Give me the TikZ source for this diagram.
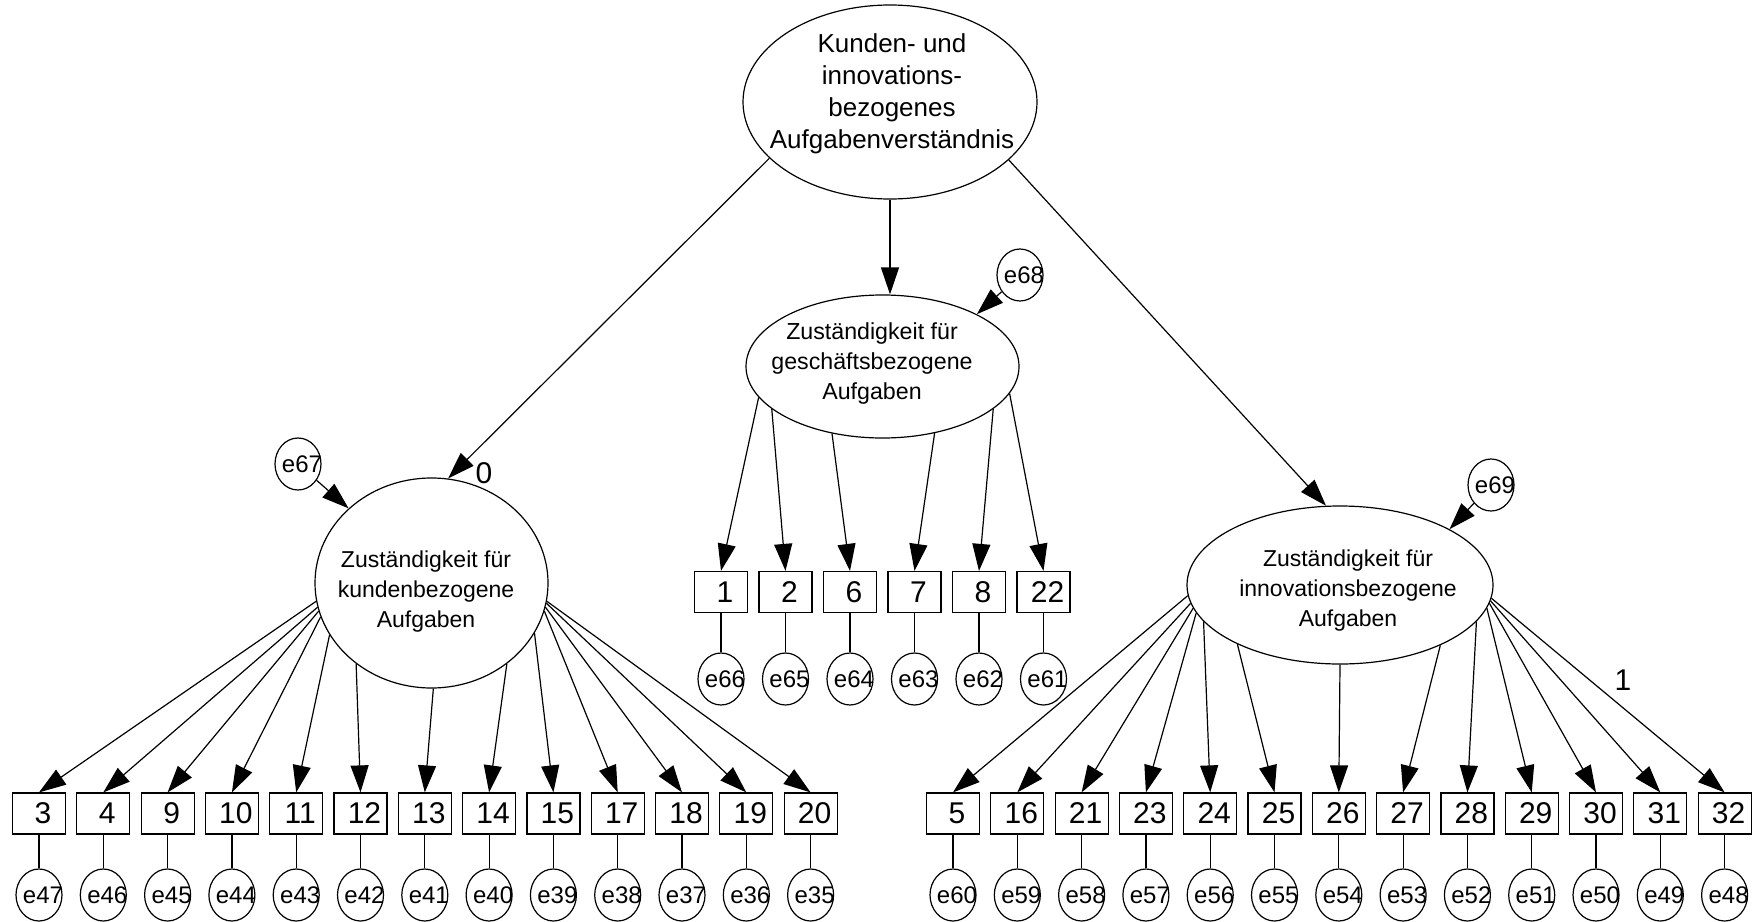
\documentclass[tikz,border=0pt]{standalone}
\usepackage{fontspec}
\setmainfont{Liberation Sans}
\usetikzlibrary{shapes.geometric,arrows.meta}

% label set slightly right of the shape centre without widening the shape
\newcommand{\shiftedlabel}[1]{\makebox[0pt]{\hspace*{4pt}#1}}

\begin{document}
\begin{tikzpicture}[x=0.5pt,y=-0.5pt,
  line width=0.6pt,
  latent/.style={draw, ellipse, inner sep=0pt},
  lattext/.style={align=center, inner sep=0pt, font=\fontsize{11.5}{15}\selectfont},
  obs/.style={draw, rectangle, minimum width=26.5pt, minimum height=20.5pt, inner sep=0pt,
              font=\fontsize{15}{15}\selectfont},
  err/.style={draw, ellipse, minimum width=23pt, minimum height=26pt, inner sep=0pt,
              font=\fontsize{12}{12}\selectfont},
  path/.style={-{Triangle[length=13.5pt,width=9pt]}},
  num/.style={inner sep=0pt, font=\fontsize{15}{15}\selectfont},
]
\useasboundingbox (0,0) rectangle (1756,921);

% second-order factor
\node[latent, minimum width=147pt, minimum height=97pt] (top) at (890,102) {};
\node[align=center, inner sep=0pt, font=\fontsize{13}{16}\selectfont] (toptext) at (892,94)
  {Kunden- und\\innovations-\\bezogenes\\Aufgabenverständnis};

% first-order factors
\node[latent, minimum width=136.5pt, minimum height=71.5pt] (mid) at (882.5,366.5) {};
\node[lattext, font=\fontsize{11.6}{15}\selectfont] (midtext) at (872,363)
  {Zuständigkeit für\\geschäftsbezogene\\Aufgaben};

\node[latent, minimum width=116.5pt, minimum height=105pt] (lc) at (431.5,583) {};
\node[lattext] (lctext) at (426,592) {Zuständigkeit für\\kundenbezogene\\Aufgaben};

\node[latent, minimum width=153pt, minimum height=79pt] (rc) at (1340,585) {};
\node[lattext] (rctext) at (1348,591) {Zuständigkeit für\\innovationsbezogene\\Aufgaben};

% disturbances of the first-order factors
\node[err] (e67) at (298,464) {\shiftedlabel{e67}};
\node[err] (e68) at (1020,275) {\shiftedlabel{e68}};
\node[err] (e69) at (1491,485) {\shiftedlabel{e69}};

\draw[path] (e67) -- (lc.138);
\draw[path] (e68) -- (mid.29);
\draw[path] (e69) -- (rc.27);

% second-order loadings
\draw[path] (top.205) -- (lc.81);
\draw[path] (top.south) -- (top.south |- mid.north);
\draw[path] (top.334.5) -- (rc.100);

\node[num] (lbl0) at (484,473) {0};
\node[num] (lbl1) at (1623,680) {1};

% customer-related items
\foreach \n/\e/\a [count=\i from 0] in
  {3/47/189,4/46/192,9/45/194.5,10/44/197.5,11/43/207,12/42/227,13/41/271,
   14/40/313,15/39/334,17/38/346,18/37/348,19/36/350,20/35/351}{
  \node[obs] (b\n) at (39+64.3*\i,813.5) {\shiftedlabel{\n}};
  \node[err] (e\e) at (39+64.3*\i,895) {\shiftedlabel{e\e}};
  \draw[path] (lc.\a) -- (b\n.north);
  \draw (b\n) -- (e\e);
}

% business-related items
\foreach \n/\e/\a [count=\i from 0] in
  {1/66/194,2/65/201.5,6/64/233,7/63/308,8/62/339.5,22/61/348.5}{
  \node[obs] (b\n) at (721+64.5*\i,592) {\shiftedlabel{\n}};
  \node[err] (e\e) at (721+64.5*\i,679) {\shiftedlabel{e\e}};
  \draw[path] (mid.\a) -- (b\n.north);
  \draw (b\n) -- (e\e);
}

% innovation-related items
\foreach \n/\e/\a [count=\i from 0] in
  {5/60/184.5,16/59/187,21/58/189.5,23/57/191.5,24/56/195,25/55/210.5,26/54/270,
   27/53/329,28/52/345,29/51/351.5,30/50/353,31/49/354.5,32/48/355.5}{
  \node[obs] (b\n) at (953+64.3*\i,813.5) {\shiftedlabel{\n}};
  \node[err] (e\e) at (953+64.3*\i,895) {\shiftedlabel{e\e}};
  \draw[path] (rc.\a) -- (b\n.north);
  \draw (b\n) -- (e\e);
}
\end{tikzpicture}
\end{document}
